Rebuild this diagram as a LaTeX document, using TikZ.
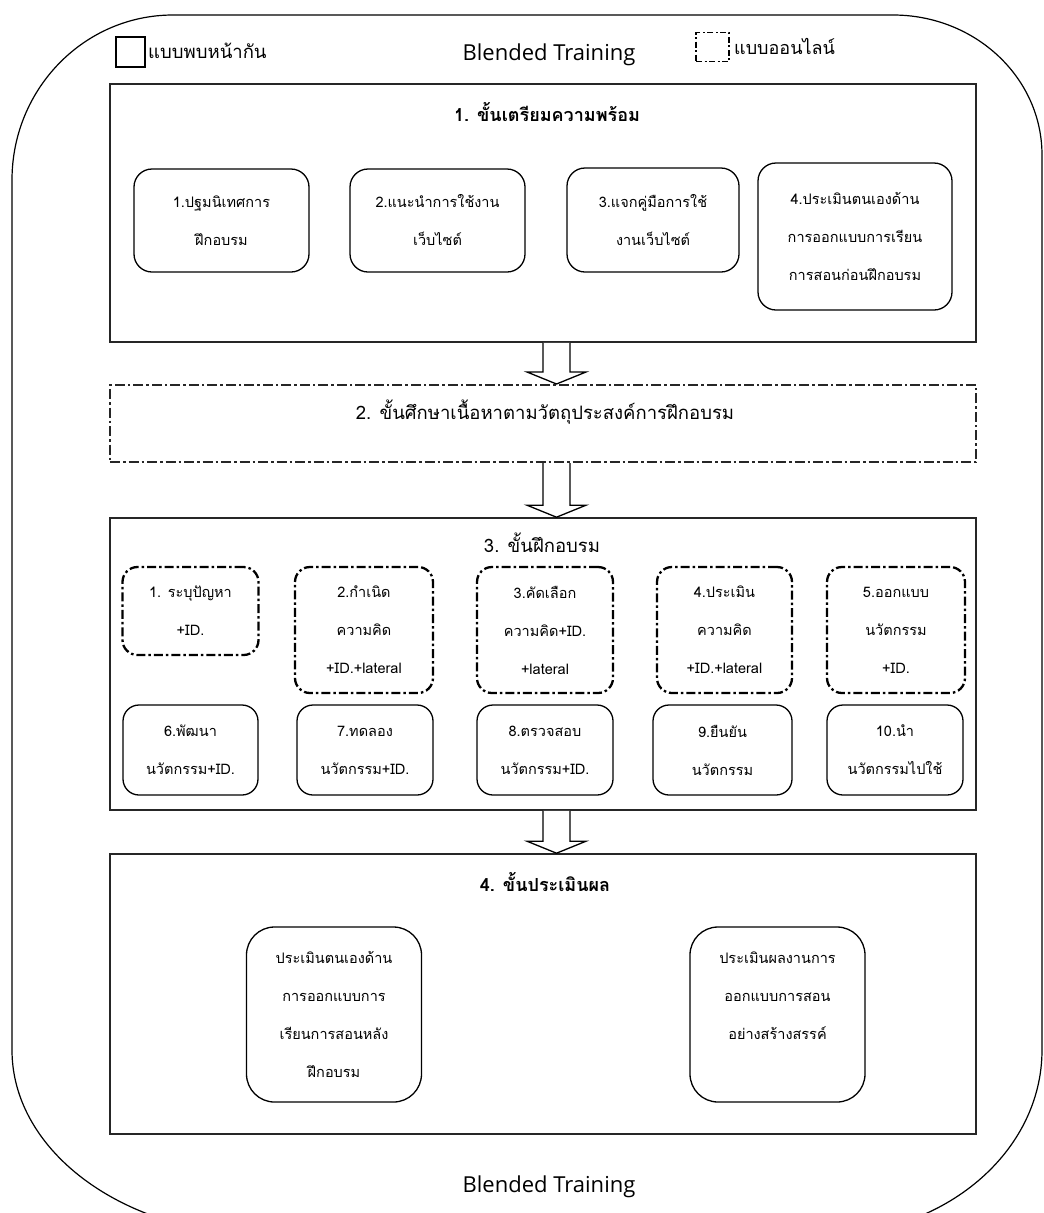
\documentclass[tikz,border=0pt]{standalone}
\usepackage{fontspec}
\setmainfont{Loma}[Script=Thai]
\newfontfamily\latinfont{Open Sans}
\usetikzlibrary{calc}
\tikzset{
  stagebox/.style={draw=black!85, line width=1.6pt, rectangle, inner sep=0pt},
  stagedash/.style={stagebox, line width=2pt, dash pattern=on 10pt off 3pt on 2.5pt off 3pt},
  stagetitle/.style={font=\fontsize{18}{20}\selectfont\bfseries, inner sep=0pt},
  stagetitlereg/.style={font=\fontsize{18.5}{20}\selectfont, inner sep=0pt},
  facebox/.style={draw=black, line width=1.3pt, rounded corners=18pt, align=center, inner sep=0pt,
    font=\fontsize{14.5}{38}\selectfont},
  onlinebox/.style={facebox, line width=2.3pt, rounded corners=15pt, dash pattern=on 9pt off 3pt on 2.5pt off 3pt},
  evalbox/.style={facebox, rounded corners=28pt, minimum width=175pt, minimum height=175pt},
  blockarrow/.style={draw=black, line width=1.3pt, fill=white},
  legendtext/.style={font=\fontsize{18.5}{20}\selectfont, anchor=west, inner sep=0pt},
  btitle/.style={font=\latinfont\fontsize{22}{24}\selectfont, inner sep=0pt},
}
\newcommand\blockarr[2]{%
  \draw[blockarrow] let \p1=(#1.south), \p2=(#2.north) in
    (\x1, \y1) -- (\x1, \y2+12pt) -- (\x1-16pt, \y2+12pt) -- (\x1+13.5pt, \y2)
    -- (\x1+43pt, \y2+12pt) -- (\x1+27pt, \y2+12pt) -- (\x1+27pt, \y1);}
\begin{document}
\begin{tikzpicture}[x=1pt, y=-1pt]
\useasboundingbox (0,0) rectangle (1044,1213);
\fill[white] (0,0) rectangle (1044,1213);
\begin{scope}
\clip (0,0) rectangle (1044,1213);
% outer rounded frame
\draw[line width=1.2pt, black]
  (173,15) -- (893,15)
  .. controls (975.3,15) and (1042,77.7) .. (1042,155)
  -- (1042,1050)
  .. controls (1042,1152.2) and (944.4,1235) .. (824,1235)
  -- (265,1235)
  .. controls (125.3,1235) and (12,1152.2) .. (12,1050)
  -- (12,180)
  .. controls (12,88.9) and (84.1,15) .. (173,15) -- cycle;
\end{scope}

% legend and top title
\node[draw=black, line width=1.3pt, minimum width=29pt, minimum height=30pt, inner sep=0pt] (legf) at (130.5,52) {};
\node[legendtext] (legft) at (148,51) {แบบพบหน้ากัน};
\node[btitle] (toptitle) at (549,55) {Blended Training};
\node[draw=black, line width=1.8pt, dash pattern=on 6pt off 2.5pt on 2pt off 2.5pt, minimum width=33pt, minimum height=29pt, inner sep=0pt] (lego) at (712.5,47) {};
\node[legendtext, font=\fontsize{18}{20}\selectfont] (legot) at (734,46) {แบบออนไลน์};

% stage 1
\node[stagebox, minimum width=866pt, minimum height=258pt] (s1) at (543,213) {};
\node[stagetitle] (t1) at (547,112) {1. ขั้นเตรียมความพร้อม};
\node[facebox, minimum width=175pt, minimum height=103pt] (p1) at (221.5,220.5) {1.ปฐมนิเทศการ\\ฝึกอบรม};
\node[facebox, minimum width=175pt, minimum height=103pt] (p2) at (437.5,220.5) {2.แนะนำการใช้งาน\\เว็บไซต์};
\node[facebox, minimum width=172pt, minimum height=104pt] (p3) at (653,220) {3.แจกคู่มือการใช้\\งานเว็บไซต์};
\node[facebox, minimum width=194pt, minimum height=147pt] (p4) at (855,236.5) {4.ประเมินตนเองด้าน\\การออกแบบการเรียน\\การสอนก่อนฝึกอบรม};

% stage 2
\node[stagedash, minimum width=866pt, minimum height=77pt] (s2) at (543,423.5) {};
\node[stagetitlereg] (t2) at (545,412) {2. ขั้นศึกษาเนื้อหาตามวัตถุประสงค์การฝึกอบรม};

% stage 3
\node[stagebox, minimum width=866pt, minimum height=292pt] (s3) at (543,664) {};
\node[stagetitlereg] (t3) at (542,543) {3. ขั้นฝึกอบรม};
\node[onlinebox, minimum width=136pt, minimum height=88pt] (o1) at (190.5,611) {1. ระบุปัญหา\\+ID.};
\node[onlinebox, minimum width=138pt, minimum height=126pt] (o2) at (364,630) {2.กำเนิด\\ความคิด\\+ID.+lateral};
\node[onlinebox, minimum width=136pt, minimum height=126pt] (o3) at (545,630) {3.คัดเลือก\\ความคิด+ID.\\+lateral};
\node[onlinebox, minimum width=135pt, minimum height=126pt] (o4) at (724.5,630) {4.ประเมิน\\ความคิด\\+ID.+lateral};
\node[onlinebox, minimum width=138pt, minimum height=126pt] (o5) at (896,630) {5.ออกแบบ\\นวัตกรรม\\+ID.};
\node[facebox, rounded corners=16pt, minimum width=135pt, minimum height=90pt] (f6) at (190.5,750) {6.พัฒนา\\นวัตกรรม+ID.};
\node[facebox, rounded corners=16pt, minimum width=136pt, minimum height=90pt] (f7) at (365,750) {7.ทดลอง\\นวัตกรรม+ID.};
\node[facebox, rounded corners=16pt, minimum width=136pt, minimum height=90pt] (f8) at (545,750) {8.ตรวจสอบ\\นวัตกรรม+ID.};
\node[facebox, rounded corners=16pt, minimum width=139pt, minimum height=90pt] (f9) at (722.5,750) {9.ยืนยัน\\นวัตกรรม};
\node[facebox, rounded corners=16pt, minimum width=136pt, minimum height=90pt] (f10) at (895,750) {10.นำ\\นวัตกรรมไปใช้};

% stage 4
\node[stagebox, minimum width=866pt, minimum height=280pt] (s4) at (543,994) {};
\node[stagetitle] (t4) at (545,882) {4. ขั้นประเมินผล};
\node[evalbox] (e1) at (334,1014.5) {ประเมินตนเองด้าน\\การออกแบบการ\\เรียนการสอนหลัง\\ฝึกอบรม};
\node[evalbox] (e2) at (777.5,1014.5) {ประเมินผลงานการ\\ออกแบบการสอน\\อย่างสร้างสรรค์\\\mbox{}};

% block arrows
\blockarr{s1}{s2}
\blockarr{s2}{s3}
\blockarr{s3}{s4}

\node[btitle] (bottomtitle) at (549,1187) {Blended Training};
\end{tikzpicture}
\end{document}
